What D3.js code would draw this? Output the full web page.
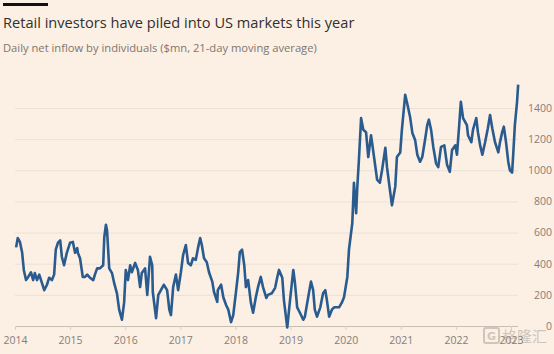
<!DOCTYPE html>
<html lang="en">
<head>
<meta charset="UTF-8">
<title>Retail investors</title>
<script src="https://cdn.jsdelivr.net/npm/d3@7"></script>
<style>
  html, body { margin: 0; padding: 0; background: #fcefe4; }
  svg { display: block; }
  .title { font-family: "Open Sans", sans-serif; font-size: 14.6px; fill: #33302e; }
  .sub { font-family: "Open Sans", sans-serif; font-size: 11.2px; fill: #7d7670; }
  .tick text { font-family: "Open Sans", sans-serif; font-size: 10.5px; fill: #857e78; }
</style>
</head>
<body>
<svg id="chart" width="554" height="354"></svg>
<script>
// decimal year of each reading
var years = [
  2014.02, 2014.05, 2014.09, 2014.13, 2014.16, 2014.20, 2014.24, 2014.29, 2014.33, 2014.36,
  2014.40, 2014.44, 2014.49, 2014.53, 2014.58, 2014.62, 2014.67, 2014.71, 2014.74, 2014.78,
  2014.82, 2014.85, 2014.89, 2014.94, 2015.00, 2015.05, 2015.09, 2015.13, 2015.14, 2015.18,
  2015.23, 2015.27, 2015.31, 2015.36, 2015.42, 2015.45, 2015.49, 2015.54, 2015.60, 2015.62,
  2015.65, 2015.67, 2015.71, 2015.76, 2015.80, 2015.85, 2015.89, 2015.94, 2015.98, 2016.01,
  2016.05, 2016.09, 2016.12, 2016.18, 2016.23, 2016.27, 2016.30, 2016.36, 2016.40, 2016.45,
  2016.49, 2016.50, 2016.56, 2016.60, 2016.67, 2016.70, 2016.76, 2016.80, 2016.83, 2016.87,
  2016.92, 2016.96, 2017.01, 2017.05, 2017.10, 2017.14, 2017.19, 2017.23, 2017.28, 2017.32,
  2017.36, 2017.39, 2017.43, 2017.48, 2017.52, 2017.58, 2017.61, 2017.67, 2017.68, 2017.74,
  2017.78, 2017.83, 2017.87, 2017.92, 2017.96, 2018.01, 2018.05, 2018.08, 2018.12, 2018.16,
  2018.19, 2018.23, 2018.28, 2018.32, 2018.37, 2018.41, 2018.46, 2018.50, 2018.56, 2018.59,
  2018.66, 2018.72, 2018.76, 2018.79, 2018.85, 2018.88, 2018.94, 2018.99, 2019.05, 2019.08,
  2019.12, 2019.17, 2019.23, 2019.26, 2019.32, 2019.37, 2019.41, 2019.44, 2019.48, 2019.54,
  2019.59, 2019.63, 2019.66, 2019.70, 2019.75, 2019.79, 2019.84, 2019.88, 2019.93, 2019.97,
  2020.03, 2020.06, 2020.12, 2020.15, 2020.19, 2020.21, 2020.24, 2020.28, 2020.32, 2020.37,
  2020.41, 2020.46, 2020.48, 2020.53, 2020.57, 2020.62, 2020.66, 2020.72, 2020.75, 2020.81,
  2020.84, 2020.90, 2020.93, 2020.99, 2021.02, 2021.08, 2021.11, 2021.17, 2021.21, 2021.26,
  2021.30, 2021.35, 2021.39, 2021.44, 2021.48, 2021.51, 2021.55, 2021.59, 2021.64, 2021.68,
  2021.73, 2021.79, 2021.84, 2021.89, 2021.93, 2021.99, 2022.02, 2022.06, 2022.09, 2022.13,
  2022.20, 2022.22, 2022.28, 2022.31, 2022.37, 2022.40, 2022.44, 2022.48, 2022.53, 2022.58,
  2022.62, 2022.66, 2022.71, 2022.77, 2022.80, 2022.84, 2022.87, 2022.91, 2022.95, 2022.98,
  2023.02, 2023.04, 2023.07, 2023.11, 2023.13
]

// daily net inflow, $mn (21-day moving average)
var inflow = [
  505, 565, 540, 470, 360, 295, 315, 345, 295, 340,
  295, 330, 275, 230, 265, 310, 295, 330, 490, 535,
  550, 445, 390, 470, 535, 540, 470, 500, 470, 435,
  315, 315, 330, 310, 295, 330, 370, 370, 390, 570,
  650, 615, 370, 340, 275, 210, 105, 40, 150, 360,
  295, 390, 345, 405, 360, 250, 340, 370, 200, 445,
  390, 220, 50, 200, 245, 265, 230, 105, 70, 250,
  330, 230, 345, 455, 520, 405, 390, 435, 425, 500,
  565, 520, 435, 410, 345, 285, 220, 155, 230, 265,
  185, 135, 105, 25, 70, 220, 345, 475, 490, 390,
  250, 295, 150, 85, 185, 250, 315, 250, 180, 200,
  210, 245, 315, 360, 310, 165, -10, 165, 360, 275,
  120, 85, 40, 60, 185, 285, 230, 105, 60, 120,
  210, 230, 165, 60, 105, 120, 120, 120, 150, 185,
  315, 490, 660, 920, 725, 885, 1065, 1335, 1260, 1245,
  1085, 1225, 1175, 1045, 940, 920, 1000, 1145, 1020, 855,
  775, 895, 1085, 1115, 1260, 1485, 1440, 1340, 1240, 1195,
  1100, 1055, 1085, 1195, 1290, 1325, 1260, 1150, 1045, 1020,
  1150, 1160, 1035, 990, 1130, 1160, 1100, 1290, 1440, 1335,
  1290, 1225, 1180, 1260, 1335, 1245, 1160, 1100, 1180, 1270,
  1355, 1270, 1180, 1115, 1180, 1245, 1280, 1180, 1055, 1000,
  985, 1100, 1290, 1440, 1550
]

var yearTicks = [2014, 2015, 2016, 2017, 2018, 2019, 2020, 2021, 2022, 2023]
var valueTicks = [0, 200, 400, 600, 800, 1000, 1200, 1400]

var svg = d3.select('#chart')

svg.append('rect').attr('x', 3).attr('y', 3).attr('width', 45).attr('height', 3).attr('fill', '#121212')
svg.append('text').attr('class', 'title').attr('x', 3).attr('y', 28)
  .text('Retail investors have piled into US markets this year')
svg.append('text').attr('class', 'sub').attr('x', 3).attr('y', 52)
  .text('Daily net inflow by individuals ($mn, 21-day moving average)')

var x = d3.scaleLinear().domain([2014, 2023]).range([15, 511])
var y = d3.scaleLinear().domain([0, 1400]).range([326, 108])

// watermark sits under the axis text, as in the original
var wm = svg.append('g').attr('opacity', 0.45)
wm.append('rect').attr('x', 484).attr('y', 328).attr('width', 15).attr('height', 15)
  .attr('fill', 'none').attr('stroke', '#9a948f').attr('stroke-width', 2).attr('rx', 2)
wm.append('text').attr('x', 491.5).attr('y', 340).attr('text-anchor', 'middle')
  .attr('font-family', 'DejaVu Sans, sans-serif').attr('font-size', 11).attr('font-weight', 'bold')
  .attr('fill', '#9a948f').text('G')
wm.append('text').attr('x', 502).attr('y', 342)
  .attr('font-family', '"Noto Sans CJK SC", sans-serif').attr('font-size', 15)
  .attr('fill', '#9a948f').text('格隆汇')

// gridlines + right hand labels
var yAxis = d3.axisRight(y).tickValues(valueTicks).tickFormat(d3.format('d')).tickSize(503)
var gy = svg.append('g').attr('transform', 'translate(15,0)').call(yAxis)
gy.select('.domain').remove()
gy.selectAll('.tick line').attr('stroke', function (d) { return d === 0 ? '#c9beb4' : '#ece1d6' })
  .attr('stroke-width', 1)
gy.selectAll('.tick text').attr('text-anchor', 'end').attr('x', 537)

// year axis along the bottom
var xAxis = d3.axisBottom(x).tickValues(yearTicks).tickFormat(d3.format('d')).tickSize(4).tickPadding(7)
var gx = svg.append('g').attr('transform', 'translate(0,326)').call(xAxis)
gx.select('.domain').remove()
gx.selectAll('.tick line').attr('stroke', '#d8cdc2')

var line = d3.line()
  .x(function (d, i) { return x(years[i]) })
  .y(function (d) { return y(d) })

svg.append('path').datum(inflow)
  .attr('d', line)
  .attr('fill', 'none')
  .attr('stroke', '#2a5b8f')
  .attr('stroke-width', 2.6)
  .attr('stroke-linejoin', 'round')
</script>
</body>
</html>
